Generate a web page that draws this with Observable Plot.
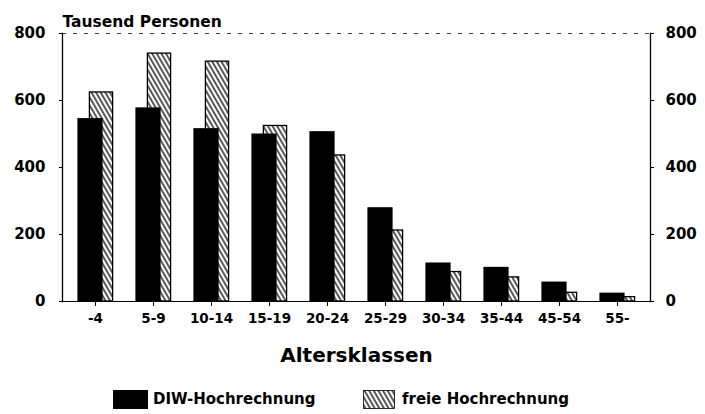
<!DOCTYPE html>
<html>
<head>
<meta charset="utf-8">
<script src="https://cdn.jsdelivr.net/npm/d3@7"></script>
<script src="https://cdn.jsdelivr.net/npm/@observablehq/plot@0.6"></script>
<style>
  html, body { margin: 0; padding: 0; background: #fff; }
  #wrap { width: 705px; height: 414px; position: relative; font-family: "DejaVu Sans", sans-serif; font-weight: bold; color: #000; }
  #legend { position: relative; width: 705px; height: 42px; }
  #legend .sw { position: absolute; top: 18px; }
  #legend .lab { position: absolute; top: 17px; font-size: 15px; line-height: 20px; }
  g[aria-label="x-axis tick label"] text { font-size: 13.5px; }
  g[aria-label="y-axis tick label"] text { font-size: 15px; }
  g[aria-label="x-axis label"] text { font-size: 20px; }
</style>
</head>
<body>
<div id="wrap">
  <div id="chart"></div>
  <div id="legend">
    <svg class="sw" style="left:113px" width="35" height="19"><rect width="35" height="19" fill="#000"/></svg>
    <div class="lab" style="left:153px">DIW-Hochrechnung</div>
    <svg class="sw" style="left:363px" width="32" height="19">
      <defs>
        <pattern id="hatch" width="4" height="4" patternUnits="userSpaceOnUse" patternTransform="rotate(-30)">
          <rect width="4" height="4" fill="#fff"/>
          <line x1="1" y1="0" x2="1" y2="4" stroke="#000" stroke-width="1.3"/>
        </pattern>
      </defs>
      <rect x="0.5" y="0.5" width="31" height="18" fill="url(#hatch)" stroke="#000" stroke-width="0.8"/>
    </svg>
    <div class="lab" style="left:402px">freie Hochrechnung</div>
  </div>
</div>
<script>
const categories = ["-4", "5-9", "10-14", "15-19", "20-24", "25-29", "30-34", "35-44", "45-54", "55-"];
const diw  = [546, 578, 516, 500, 507, 280, 115, 102, 58, 25];
const frei = [624, 740, 716, 524, 436, 212, 88, 72, 26, 13];
const yTicks = [0, 200, 400, 600, 800];

const rows = categories.map((c, i) => ({cat: c, diw: diw[i], frei: frei[i]}));

const plot = Plot.plot({
  width: 705,
  height: 372,
  marginLeft: 62,
  marginRight: 55,
  marginTop: 33,
  marginBottom: 71,
  style: {fontFamily: "DejaVu Sans", fontWeight: "bold", fontSize: "15px", background: "#fff", color: "#000"},
  x: {domain: categories, padding: 0, axis: null},
  y: {domain: [0, 800], axis: null},
  marks: [
    Plot.ruleY([800], {stroke: "#444", strokeWidth: 1, strokeDasharray: "4,7"}),
    Plot.barY(rows, {x: "cat", y: "frei", fill: "url(#hatch)", stroke: "#000", strokeWidth: 1.3, insetLeft: 23.4, insetRight: 11.4}),
    Plot.barY(rows, {x: "cat", y: "diw", fill: "#000", insetLeft: 11.4, insetRight: 21.4}),
    Plot.ruleY([0], {stroke: "#000", strokeWidth: 1.2}),
    Plot.frame({anchor: "left", stroke: "#000", strokeWidth: 1.3}),
    Plot.frame({anchor: "right", stroke: "#000", strokeWidth: 1.3}),
    Plot.axisY({anchor: "left", ticks: yTicks, tickSize: 3, tickPadding: 14, label: null, fontSize: 15}),
    Plot.axisY({anchor: "right", ticks: yTicks, tickSize: 3, tickPadding: 12, label: null, fontSize: 15}),
    Plot.axisX({anchor: "bottom", tickSize: 5, tickPadding: 7, fontSize: 13.5, label: "Altersklassen", labelAnchor: "center", labelOffset: 60}),
    Plot.text(["Tausend Personen"], {frameAnchor: "top-left", textAnchor: "start", dy: -18, fontSize: 15.5})
  ]
});
document.getElementById("chart").appendChild(plot);
</script>
</body>
</html>
